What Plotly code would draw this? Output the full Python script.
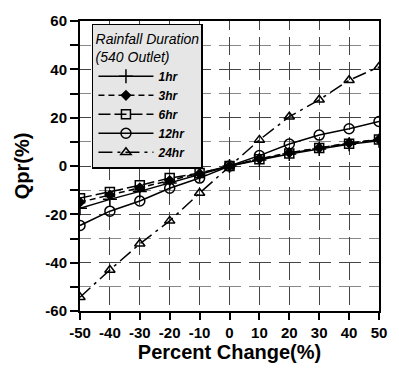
import plotly.graph_objects as go

pct = [-50, -40, -30, -20, -10, 0, 10, 20, 30, 40, 50]
q_1hr = [-17.5, -13.8, -10.5, -7.0, -3.8, 0, 2.5, 5.0, 7.0, 9.0, 10.5]
q_3hr = [-15.0, -12.0, -9.0, -6.0, -3.2, 0, 3.0, 5.5, 7.5, 9.5, 11.0]
q_6hr = [-13.3, -10.8, -8.0, -5.0, -2.9, 0, 2.8, 5.2, 7.5, 9.2, 11.0]
q_12hr = [-24.6, -18.7, -14.5, -9.2, -5.0, 0, 4.3, 9.1, 12.8, 15.4, 18.4]
q_24hr = [-54.3, -43.0, -32.2, -22.7, -11.2, 0, 10.8, 20.4, 27.4, 35.5, 41.0]

series = [
    ("1hr", q_1hr, "cross-thin-open", "solid", 10),
    ("3hr", q_3hr, "diamond", "6px,4px", 7),
    ("6hr", q_6hr, "square-open", "12px,4px", 9),
    ("12hr", q_12hr, "circle-open", "solid", 10),
    ("24hr", q_24hr, "triangle-up-open", "14px,5px,3px,5px", 9),
]

fig = go.Figure()
for name, vals, sym, dash, size in series:
    fig.add_trace(go.Scatter(
        x=pct, y=vals, mode="lines+markers", name=f"<b><i>{name}</i></b>",
        line=dict(color="black", width=1.5, dash=dash),
        marker=dict(symbol=sym, size=size, color="black",
                    line=dict(color="black", width=1.5)),
    ))

font = "Liberation Sans, Arial, sans-serif"
fig.update_layout(
    width=399, height=369,
    margin=dict(l=80, r=17, t=15, b=55),
    paper_bgcolor="white", plot_bgcolor="white",
    font=dict(family=font, color="black", size=14),
    showlegend=True,
    legend=dict(
        x=0.04, y=0.99, xanchor="left", yanchor="top",
        bgcolor="#e6e6e6", bordercolor="black", borderwidth=1.5,
        title=dict(text="<i>Rainfall Duration<br>(540 Outlet)</i>",
                   font=dict(size=14, family=font), side="top center"),
        font=dict(size=12, family=font),
        tracegroupgap=0, itemwidth=55,
    ),
)
fig.update_xaxes(
    range=[-50, 50], tickmode="array", tickvals=pct,
    ticktext=[f"<b>{v}</b>" for v in pct],
    tickfont=dict(size=15, family=font),
    title=dict(text="<b>Percent Change(%)</b>", font=dict(size=20, family=font), standoff=2),
    showline=True, linecolor="black", linewidth=2, mirror=True,
    ticks="outside", ticklen=7, tickwidth=1.5, tickcolor="black",
    showgrid=True, gridcolor="#444", gridwidth=1.2, griddash="9px,7px,9px,0px",
    zeroline=False,
)
yt = [-60, -40, -20, 0, 20, 40, 60]
fig.update_yaxes(
    range=[-60, 60], tickmode="array", tickvals=yt,
    ticktext=[f"<b>{v}</b>" for v in yt],
    tickfont=dict(size=15, family=font),
    title=dict(text="<b>Qpr(%)</b>", font=dict(size=20, family=font), standoff=10),
    showline=True, linecolor="black", linewidth=2, mirror=True,
    ticks="outside", ticklen=8, tickwidth=1.5, tickcolor="black",
    showgrid=True, gridcolor="#444", gridwidth=1.2, griddash="11px,8px,11px,0px",
    minor=dict(dtick=10, showgrid=True, gridcolor="#888", gridwidth=1.2,
               griddash="11px,8px,11px,0px",
               ticks="outside", ticklen=8, tickwidth=1.5, tickcolor="black"),
    zeroline=False,
)
fig.write_html("out.html")
